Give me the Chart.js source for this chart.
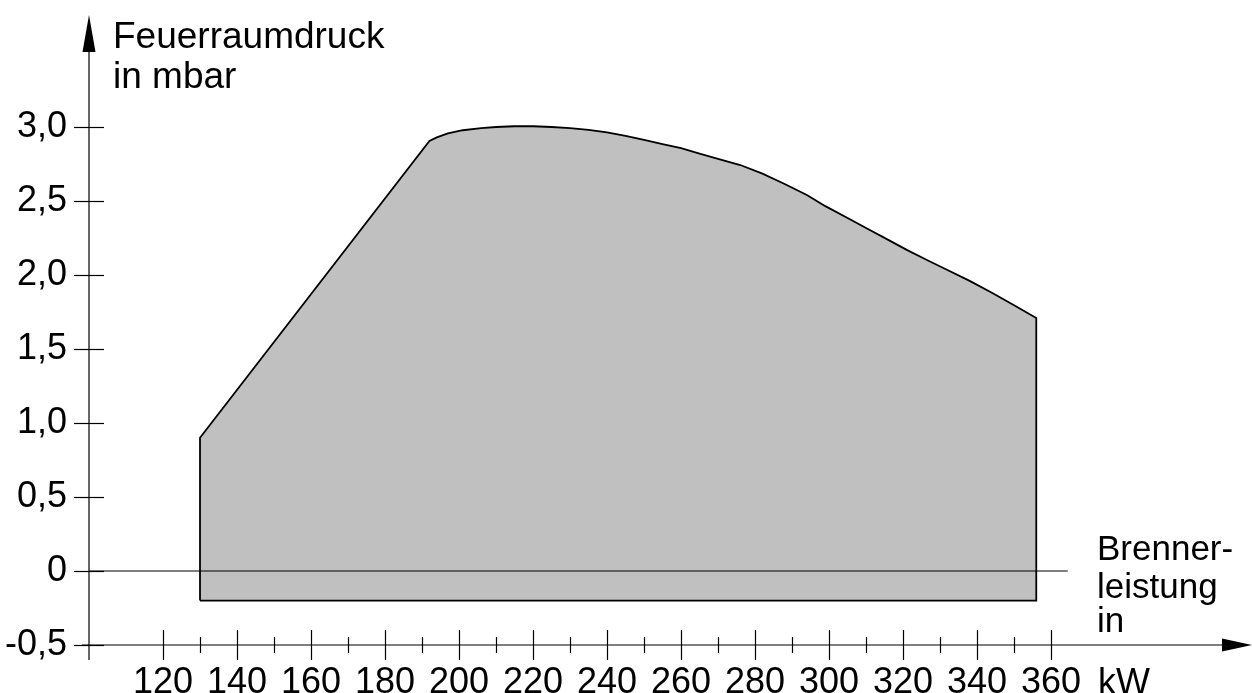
<!DOCTYPE html>
<html>
<head>
<meta charset="utf-8">
<script src="https://cdn.jsdelivr.net/npm/chart.js@4"></script>
<style>
  html, body { margin: 0; padding: 0; background: #fff; }
  #wrap { width: 1252px; height: 693px; }
</style>
</head>
<body>
<div id="wrap"><canvas id="chart"></canvas></div>
<script>
// Brennerleistung (kW) / Feuerraumdruck (mbar), outline of the working range
const leistung = [130, 130, 192, 194, 197, 201, 206, 210, 215, 220, 225, 230, 235, 240, 245, 250, 255, 260, 265, 270, 276, 282, 288, 294, 299, 305, 310, 316, 321, 327, 332, 338, 344, 350, 356, 356, 130];
const druck    = [-0.2, 0.9, 2.905, 2.93, 2.957, 2.978, 2.993, 3.0, 3.005, 3.005, 3.0, 2.993, 2.98, 2.963, 2.94, 2.913, 2.885, 2.857, 2.82, 2.785, 2.743, 2.685, 2.615, 2.54, 2.465, 2.385, 2.318, 2.237, 2.17, 2.095, 2.034, 1.96, 1.88, 1.795, 1.71, -0.2, -0.2];

// zero line
const nullLinieX = [100, 364.5];
const nullLinieY = [0, 0];

const xTicks = [120, 140, 160, 180, 200, 220, 240, 260, 280, 300, 320, 340, 360];
const xMinorTicks = [130, 150, 170, 190, 210, 230, 250, 270, 290, 310, 330, 350];
const yTicks = [-0.5, 0, 0.5, 1.0, 1.5, 2.0, 2.5, 3.0];
const yTickLabels = ['-0,5', '0', '0,5', '1,0', '1,5', '2,0', '2,5', '3,0'];

const FONT = '"Liberation Sans", Arial, sans-serif';

function pts(xs, ys) {
  return xs.map((x, i) => ({ x: x, y: ys[i] }));
}

// axes with arrows, cross ticks and the free text labels
const axesPlugin = {
  id: 'axes',
  afterDatasetsDraw(chart) {
    const ctx = chart.ctx;
    const xs = chart.scales.x, ys = chart.scales.y;
    const x0 = xs.getPixelForValue(100);
    const yBase = ys.getPixelForValue(-0.5);
    const yTop = ys.getPixelForValue(ys.max);
    const xEnd = xs.getPixelForValue(xs.max);

    ctx.save();
    ctx.strokeStyle = '#000';
    ctx.fillStyle = '#000';
    ctx.lineWidth = 1.2;

    // y axis
    ctx.beginPath();
    ctx.moveTo(x0, yBase + 15);
    ctx.lineTo(x0, yTop + 30);
    ctx.stroke();
    ctx.beginPath();
    ctx.moveTo(x0, yTop + 15);
    ctx.lineTo(x0 - 6.5, yTop + 52);
    ctx.lineTo(x0 + 6.5, yTop + 52);
    ctx.closePath();
    ctx.fill();

    // x axis
    ctx.beginPath();
    ctx.moveTo(x0 - 7, yBase);
    ctx.lineTo(xEnd - 20, yBase);
    ctx.stroke();
    ctx.beginPath();
    ctx.moveTo(xEnd, yBase);
    ctx.lineTo(xEnd - 30, yBase - 6.5);
    ctx.lineTo(xEnd - 30, yBase + 6.5);
    ctx.closePath();
    ctx.fill();

    // y ticks
    yTicks.forEach(v => {
      const py = Math.round(ys.getPixelForValue(v)) + 0.5;
      ctx.beginPath();
      ctx.moveTo(x0 - 15, py);
      ctx.lineTo(x0 + 15, py);
      ctx.stroke();
    });
    // x ticks
    xTicks.forEach(v => {
      const px = Math.round(xs.getPixelForValue(v)) + 0.5;
      ctx.beginPath();
      ctx.moveTo(px, yBase - 15);
      ctx.lineTo(px, yBase + 15);
      ctx.stroke();
    });
    xMinorTicks.forEach(v => {
      const px = Math.round(xs.getPixelForValue(v)) + 0.5;
      ctx.beginPath();
      ctx.moveTo(px, yBase - 8);
      ctx.lineTo(px, yBase + 8);
      ctx.stroke();
    });

    // texts
    ctx.textAlign = 'left';
    ctx.textBaseline = 'alphabetic';
    ctx.font = '37px ' + FONT;
    ctx.fillText('Feuerraumdruck', 113, 48);
    ctx.fillText('in mbar', 113, 88);
    ctx.font = '35px ' + FONT;
    ctx.fillText('Brenner-', 1097, 560);
    ctx.fillText('leistung', 1097, 598);
    ctx.fillText('in', 1097, 632);
    ctx.font = '36px ' + FONT;
    ctx.fillText('kW', 1098, 694);
    ctx.restore();
  }
};

new Chart('chart', {
  type: 'scatter',
  data: {
    datasets: [
      {
        data: pts(nullLinieX, nullLinieY),
        showLine: true,
        borderColor: '#000',
        borderWidth: 1.2,
        pointRadius: 0,
        fill: false
      },
      {
        data: pts(leistung, druck),
        showLine: true,
        borderColor: '#000',
        borderWidth: 1.8,
        backgroundColor: '#c0c0c0',
        pointRadius: 0,
        tension: 0,
        fill: 'shape'
      }
    ]
  },
  options: {
    responsive: true,
    maintainAspectRatio: false,
    animation: false,
    layout: { padding: 0 },
    plugins: { legend: { display: false }, tooltip: { enabled: false } },
    scales: {
      x: {
        type: 'linear',
        min: 100,
        max: 414.3,
        grid: { display: false, drawTicks: false },
        border: { display: false },
        afterBuildTicks(scale) { scale.ticks = xTicks.map(v => ({ value: v })); },
        afterFit(scale) { scale.height = 48; scale.paddingLeft = 0; scale.paddingRight = 0; },
        ticks: {
          padding: 16,
          maxRotation: 0,
          autoSkip: false,
          color: '#000',
          font: { family: FONT, size: 36 },
          callback: v => String(v)
        }
      },
      y: {
        type: 'linear',
        min: -0.5,
        max: 3.858,
        grid: { display: false, drawTicks: false },
        border: { display: false },
        afterBuildTicks(scale) { scale.ticks = yTicks.map(v => ({ value: v })); },
        afterFit(scale) { scale.width = 89; scale.paddingTop = 0; scale.paddingBottom = 0; },
        ticks: {
          padding: 22,
          autoSkip: false,
          color: '#000',
          font: { family: FONT, size: 36 },
          callback: v => yTickLabels[yTicks.indexOf(v)]
        }
      }
    }
  },
  plugins: [axesPlugin]
});
</script>
</body>
</html>
